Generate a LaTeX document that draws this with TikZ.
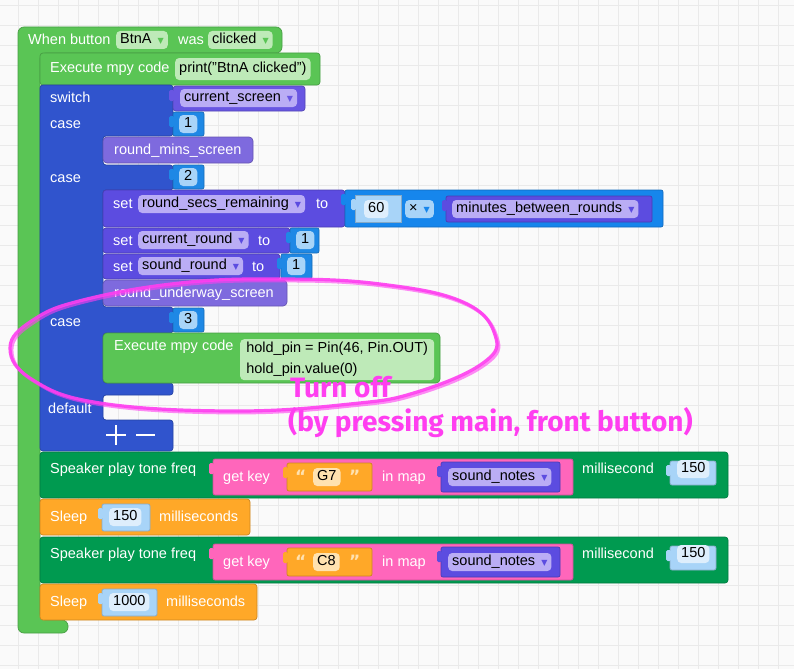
\documentclass[tikz,border=0pt]{standalone}
\usepackage{fontspec}
\setmainfont{Liberation Sans}
\newfontfamily\symfont{DejaVu Sans}
\newfontfamily\handfont{Fira Sans}
\definecolor{bgc}{RGB}{250,250,250}
\definecolor{gridc}{RGB}{234,234,234}
\definecolor{evtg}{RGB}{90,197,85}
\definecolor{fieldg}{RGB}{190,234,184}
\definecolor{swb}{RGB}{48,84,205}
\definecolor{varp}{RGB}{104,86,226}
\definecolor{setp}{RGB}{92,76,224}
\definecolor{varl}{RGB}{126,106,222}
\definecolor{fieldp}{RGB}{186,173,245}
\definecolor{numb}{RGB}{30,136,229}
\definecolor{numf}{RGB}{168,212,248}
\definecolor{numw}{RGB}{222,238,252}
\definecolor{mathb}{RGB}{22,134,236}
\definecolor{spkg}{RGB}{0,154,80}
\definecolor{mapp}{RGB}{255,102,187}
\definecolor{txto}{RGB}{255,168,40}
\definecolor{txtf}{RGB}{255,226,176}
\definecolor{annot}{RGB}{255,62,240}
\newcommand{\dd}[1]{\hspace{6pt}{\symfont\fontsize{8}{8}\selectfont\textcolor{#1}{▼}}}
\newcommand{\vtab}[3]{\fill[#1, rounded corners=1.5pt] (#2-4,#3+4) rectangle (#2+1,#3+15);}

\begin{document}
\begin{tikzpicture}[x=1pt, y=-1pt, font=\fontsize{14.5}{17}\selectfont,
  blk/.style={fill=#1, draw=#1!80!black, line width=0.7pt},
  shd/.style={fill=numf, draw=numf!80!black, line width=0.7pt},
  lbl/.style={anchor=west, inner sep=0pt, text=white, text height=10pt, text depth=1.5pt},
  fld/.style={anchor=west, fill=#1, rounded corners=4pt, inner xsep=4pt, inner ysep=0pt,
    minimum height=18pt, text height=10.5pt, text depth=3pt, text=black},
  quot/.style={anchor=west, inner sep=0pt, text=txtf, font=\symfont\bfseries\fontsize{17}{17}\selectfont},
  hand/.style={anchor=west, inner sep=0pt, text=annot, font=\handfont\bfseries\fontsize{28}{28}\selectfont}]
  \useasboundingbox (0,0) rectangle (794,669);
  \fill[bgc] (0,0) rectangle (794,669);
  \foreach \x in {18,38,...,794} { \draw[gridc] (\x,0) -- (\x,669); }
  \foreach \y in {5,25,...,669} { \draw[gridc] (0,\y) -- (794,\y); }

  % event block
  \draw[blk=evtg, rounded corners=6pt] (18,27) -- (282,27) -- (282,53) -- (40,53) -- (40,620)
    -- (68,620) -- (68,633) -- (18,633) -- cycle;
  \node[lbl] (when) at (28,40) {When button};
  \node[fld=fieldg] (btn) at (116,40) {BtnA\dd{evtg}};
  \node[lbl] (was) at (178,40) {was};
  \node[fld=fieldg] (clk) at (208,40) {clicked\dd{evtg}};
  \draw[blk=evtg, rounded corners=3pt] (40,53) rectangle (320,85);
  \node[lbl] (exec) at (50,68) {Execute mpy code};
  \node[fld=fieldg, minimum height=22pt] (prt) at (175,69) {print("BtnA clicked")};

  % switch block
  \draw[blk=swb, rounded corners=3pt] (40,85) -- (173,85) -- (173,136) -- (103,136) -- (103,165)
    -- (173,165) -- (173,190) -- (103,190) -- (103,307) -- (173,307) -- (173,333) -- (103,333)
    -- (103,383) -- (173,383) -- (173,395) -- (103,395) -- (103,420) -- (173,420) -- (173,451)
    -- (40,451) -- cycle;
  \node[lbl] (sw) at (50,98) {switch};
  \node[lbl] (c1) at (50,124) {case};
  \node[lbl] (c2) at (50,178) {case};
  \node[lbl] (c3) at (50,322) {case};
  \node[lbl] (dflt) at (48,409) {default};
  \draw[white, line width=2pt] (106,435) -- (126,435) (116,425) -- (116,445) (136,435) -- (155,435);

  \draw[blk=varp, rounded corners=3pt] (173,86) rectangle (305,111);
  \vtab{varp}{173}{86}
  \node[fld=fieldp] (cs) at (180,98) {current\_screen\dd{varp}};
  \foreach \y/\v in {112/1, 165/2, 308/3} {
    \draw[blk=numb, rounded corners=2pt] (173,\y) rectangle (204,\y+24);
    \vtab{numb}{173}{\y}
    \node[fld=numf, inner xsep=5pt] at (179,\y+12) {\v};
  }
  \draw[blk=varl, rounded corners=4pt] (103,137) rectangle (253,163);
  \node[lbl] (rms) at (114,150) {round\_mins\_screen};

  \draw[blk=setp, rounded corners=3pt] (103,190) rectangle (345,227);
  \node[lbl] (set1) at (113,204) {set};
  \node[fld=fieldp] (rsr) at (138,204) {round\_secs\_remaining\dd{setp}};
  \node[lbl] (to1) at (316,204) {to};
  \draw[blk=mathb, rounded corners=2pt] (345,190) rectangle (663,227);
  \vtab{mathb}{345}{190}
  \draw[shd] (355,195) rectangle (401,222);
  \vtab{numf}{355}{195}
  \node[fld=numw] (sixty) at (364,209) {60};
  \node[fld=numf] (times) at (405,209) {×\dd{mathb}};
  \draw[blk=setp, rounded corners=2pt] (446,196) rectangle (652,222);
  \vtab{setp}{446}{196}
  \node[fld=fieldp] (mbr) at (452,209) {minutes\_between\_rounds\dd{setp}};

  \draw[blk=setp, rounded corners=3pt] (103,228) rectangle (290,253);
  \node[lbl] (set2) at (113,241) {set};
  \node[fld=fieldp] (cr) at (138,240) {current\_round\dd{setp}};
  \node[lbl] (to2) at (258,241) {to};
  \draw[blk=numb, rounded corners=2pt] (290,228) rectangle (319,253);
  \vtab{numb}{290}{228}
  \node[fld=numf, inner xsep=5pt] (one1) at (296,240) {1};

  \draw[blk=setp, rounded corners=3pt] (103,254) rectangle (280,279);
  \node[lbl] (set3) at (113,267) {set};
  \node[fld=fieldp] (sr) at (138,266) {sound\_round\dd{setp}};
  \node[lbl] (to3) at (252,267) {to};
  \draw[blk=numb, rounded corners=2pt] (281,254) rectangle (312,279);
  \vtab{numb}{281}{254}
  \node[fld=numf, inner xsep=5pt] (one2) at (287,266) {1};

  \draw[blk=varl, rounded corners=4pt] (103,280) rectangle (287,306);
  \node[lbl] (rus) at (114,293) {round\_underway\_screen};

  \draw[blk=evtg, rounded corners=4pt] (103,333) rectangle (440,383);
  \node[lbl] (exec2) at (114,346) {Execute mpy code};
  \node[anchor=north west, fill=fieldg, rounded corners=4pt, align=left, inner xsep=4pt,
    inner ysep=3pt, text=black, minimum width=194pt, minimum height=41pt,
    font=\fontsize{14.5}{21}\selectfont] (code) at (240,339)
    {hold\_pin = Pin(46, Pin.OUT)\\hold\_pin.value(0)};

  % speaker and sleep blocks
  \foreach \t/\n/\k in {452/G7/a, 537/C8/b} {
    \draw[blk=spkg, rounded corners=3pt] (40,\t) rectangle (728,\t+46);
    \node[lbl] (spk\k) at (50,\t+17) {Speaker play tone freq};
    \draw[blk=mapp, rounded corners=2pt] (213,\t+7) rectangle (573,\t+43);
    \vtab{mapp}{213}{\t+7}
    \node[lbl] (gk\k) at (223,\t+25) {get key};
    \draw[blk=txto, rounded corners=2pt] (287,\t+11) rectangle (372,\t+39);
    \vtab{txto}{287}{\t+11}
    \node[quot] (ql\k) at (295,\t+24) {“};
    \node[fld=txtf] (note\k) at (313,\t+25) {\n};
    \node[quot] (qr\k) at (349,\t+24) {”};
    \node[lbl] (im\k) at (382,\t+25) {in map};
    \draw[blk=setp, rounded corners=2pt] (441,\t+10) rectangle (560,\t+40);
    \vtab{setp}{441}{\t+10}
    \node[fld=fieldp] (sn\k) at (448,\t+25) {sound\_notes\dd{setp}};
    \node[lbl] (ms\k) at (582,\t+17) {millisecond};
    \draw[shd, rounded corners=2pt] (670,\t+9) rectangle (716,\t+33);
    \vtab{numf}{670}{\t+9}
    \node[fld=numw] (dur\k) at (677,\t+17) {150};
  }
  \foreach \t/\v/\w/\k in {499/150/150/a, 584/1000/157/b} {
    \draw[blk=txto, rounded corners=3pt] (40,\t) rectangle (\w+100,\t+36);
    \node[lbl] (slp\k) at (50,\t+18) {Sleep};
    \draw[shd, rounded corners=2pt] (102,\t+5) rectangle (\w,\t+32);
    \vtab{numf}{102}{\t+5}
    \node[fld=numw] (sv\k) at (109,\t+18) {\v};
    \node[lbl] (mss\k) at (\w+9,\t+18) {milliseconds};
  }

  % annotation
  \foreach \d/\o in {0/0.9, 1.8/0.6} {
    \draw[annot, line width=3.2pt, opacity=\o, shift={(\d,\d)}]
      plot[smooth cycle, tension=0.7] coordinates
      {(10,348) (33,320) (83,300) (180,283) (280,279) (380,284) (463,302) (495,335)
       (483,363) (417,392) (350,404) (233,411) (100,403) (33,380)};
  }
  \node[hand] (turn) at (290,387) {Turn off};
  \node[hand] (why) at (288,423) {(by pressing main, front button)};
\end{tikzpicture}
\end{document}
